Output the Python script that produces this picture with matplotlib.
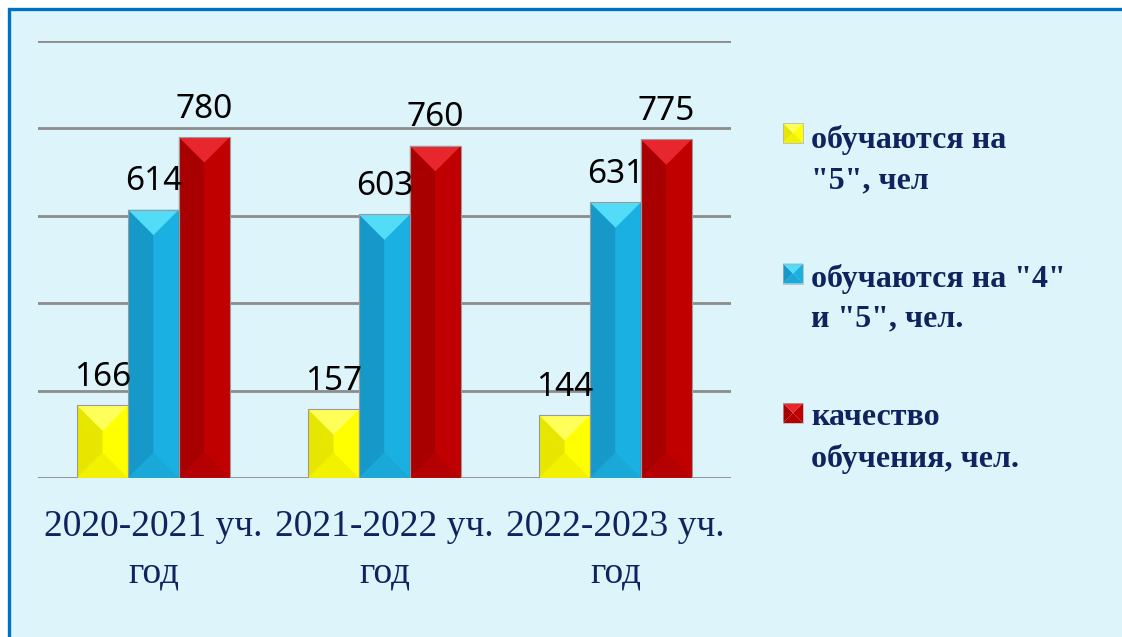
import matplotlib
matplotlib.use("Agg")
import matplotlib.pyplot as plt
from matplotlib.patches import Rectangle, Polygon
import numpy as np

# данные
years = ['2020-2021 уч.\nгод', '2021-2022 уч.\nгод', '2022-2023 уч.\nгод']
excellent = [166, 157, 144]
good_excellent = [614, 603, 631]
quality = [780, 760, 775]
series_names = ['обучаются на\n"5", чел', 'обучаются на "4"\nи "5", чел.', 'качество\nобучения, чел.']

# цвета граней: правая, левая, верх, низ
face_colors = [
    ('#FFFF00', '#E6E600', '#FFFF5A', '#F2F200'),
    ('#1AB0E2', '#1699C9', '#52DCF8', '#19A8D8'),
    ('#C00000', '#A80000', '#E8262E', '#B40000'),
]
text_navy = '#0F245E'


def bevel(ax, x0, x1, yb, yt, d, cols, edge='#9A9A9A', lw=0.8, z=3):
    # прямоугольник со скошенными гранями (пирамидальный вид)
    right, left, top, bottom = cols
    s = np.sign(yt - yb)
    cx = (x0 + x1) / 2
    at = yt - s * d
    ab = yb + s * d
    ax.add_patch(Polygon([(x0, yb), (x0, yt), (cx, at), (cx, ab)], closed=True,
                         facecolor=left, edgecolor='none', zorder=z))
    ax.add_patch(Polygon([(x1, yb), (x1, yt), (cx, at), (cx, ab)], closed=True,
                         facecolor=right, edgecolor='none', zorder=z))
    ax.add_patch(Polygon([(x0, yt), (x1, yt), (cx, at)], closed=True,
                         facecolor=top, edgecolor='none', zorder=z + 0.1))
    ax.add_patch(Polygon([(x0, yb), (x1, yb), (cx, ab)], closed=True,
                         facecolor=bottom, edgecolor='none', zorder=z + 0.1))
    ax.add_patch(Rectangle((x0, min(yb, yt)), x1 - x0, abs(yt - yb), fill=False,
                           edgecolor=edge, lw=lw, zorder=z + 0.2))


W, H = 1122, 637
fig = plt.figure(figsize=(W / 100, H / 100), dpi=100)
fig.patch.set_facecolor('white')

# фон и рамка (только сверху и слева видны)
fig.patches.append(Rectangle((8.5 / W, -0.05), 1.2, (H - 9.0) / H + 0.05,
                             transform=fig.transFigure, facecolor='#DDF4FA',
                             edgecolor='#0070C0', lw=2.4, zorder=-10))

ax = fig.add_axes([38 / W, 1 - 478 / H, 693 / W, 437 / H])
ax.set_facecolor('none')
ax.set_xlim(-0.5, 2.5)
ax.set_ylim(0, 1000)
ax.set_yticks(np.arange(0, 1001, 200))
ax.yaxis.grid(True, color='#8C8C8C', lw=2)
ax.set_axisbelow(True)
for sp in ax.spines.values():
    sp.set_visible(False)
ax.tick_params(left=False, labelleft=False, bottom=False)

x = np.arange(len(years))
ax.set_xticks(x)
ax.set_xticklabels(years, fontfamily='Liberation Serif', fontsize=27,
                   color=text_navy, linespacing=1.45)
ax.tick_params(axis='x', pad=19)

bw = 0.22
offsets = [-bw, 0, bw]
px_x = ax.transData.transform((1, 0))[0] - ax.transData.transform((0, 0))[0]
px_y = ax.transData.transform((0, 1))[1] - ax.transData.transform((0, 0))[1]
depth = (bw * px_x / 2) / px_y

for vals, off, cols in zip([excellent, good_excellent, quality], offsets, face_colors):
    bars = ax.bar(x + off, vals, width=bw, color=cols[0], zorder=2)
    for b, v in zip(bars, vals):
        x0 = b.get_x()
        bevel(ax, x0, x0 + bw, 0, v, depth, cols)
        ax.annotate(str(v), (x0 + bw / 2, v), xytext=(0, 14), textcoords='offset points',
                    ha='center', va='baseline', fontsize=24, fontfamily='Noto Sans',
                    color='black', zorder=6)

# легенда
lax = fig.add_axes([0, 0, 1, 1])
lax.set_xlim(0, W)
lax.set_ylim(H, 0)
lax.axis('off')
text_centers = [160, 298.5, 438.5]
marker_centers = [133, 273.5, 413]
for name, tc, mc, cols in zip(series_names, text_centers, marker_centers, face_colors):
    bevel(lax, 783, 803, mc + 10, mc - 10, 10, cols, edge='#B0B0B0', lw=0.5)
    lax.text(811, tc, name, ha='left', va='center', fontfamily='Liberation Serif',
             fontweight='bold', fontsize=23, color=text_navy, linespacing=1.5)

fig.savefig('out.png', dpi=100)
